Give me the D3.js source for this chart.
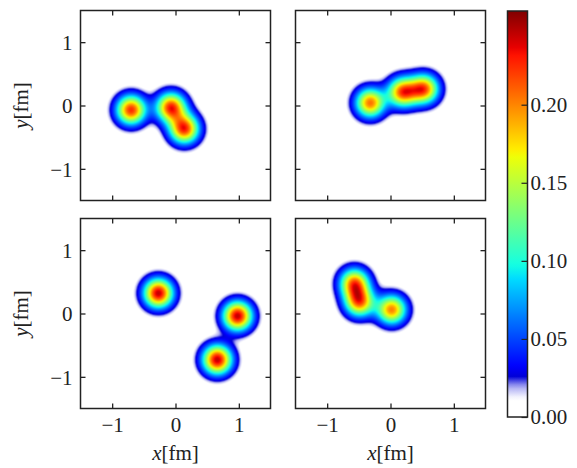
<!DOCTYPE html>
<html>
<head>
<meta charset="utf-8">
<script src="https://cdn.jsdelivr.net/npm/d3@7"></script>
<style>
  html, body { margin: 0; padding: 0; background: #fff; }
  svg { display: block; }
  text { font-family: "Liberation Serif", "DejaVu Serif", serif; fill: #222; }
</style>
</head>
<body>
<svg id="chart" width="577" height="468"></svg>
<script>
// ---------------- data ----------------
// hot spot centres (fm) and peak weights for each of the four panels
const panelNames = ["topLeft", "topRight", "bottomLeft", "bottomRight"];
const hotspotX = [
  [-0.70, -0.07, 0.14],
  [-0.32, 0.19, 0.53],
  [-0.27, 0.98, 0.66],
  [-0.57, -0.49, 0.02]
];
const hotspotY = [
  [-0.07, -0.03, -0.37],
  [0.04, 0.21, 0.26],
  [0.32, -0.04, -0.73],
  [0.48, 0.18, 0.06]
];
const hotspotW = [
  [0.225, 0.225, 0.225],
  [0.205, 0.21, 0.21],
  [0.245, 0.245, 0.245],
  [0.20, 0.20, 0.20]
];
const hotspotWidth = 0.16;           // Gaussian width (fm)
const axisTicks = [-1, 0, 1];
const axisTickLabels = ["\u22121", "0", "1"];
const cbarTicks = [0.00, 0.05, 0.10, 0.15, 0.20];
const cbarTickLabels = ["0.00", "0.05", "0.10", "0.15", "0.20"];
const valueMax = 0.26;
const axisDomain = [-1.5, 1.5];

// ---------------- colormap (jet with a white floor) ----------------
const cmapStops = [0, 0.045, 0.075, 0.10, 0.125, 0.34, 0.375, 0.64, 0.66, 0.89, 0.91, 1.0];
const cmapColors = ["#ffffff", "#ffffff", "#a8a8f2", "#0000d8", "#0000ff", "#00dbff",
                    "#14ffe2", "#eeff08", "#ffec00", "#ff1300", "#e80000", "#800000"];
const cmap = d3.scaleLinear().domain(cmapStops).range(cmapColors)
  .interpolate(d3.interpolateRgb).clamp(true);
const valueToT = d3.scaleLinear().domain([0, valueMax]).range([0, 1]).clamp(true);

// ---------------- layout ----------------
const svg = d3.select("#chart");
const size = 190;
const panelPos = [
  {x: 80.5, y: 10.5, left: true, bottom: false},
  {x: 295.5, y: 10.5, left: false, bottom: false},
  {x: 80.5, y: 218.5, left: true, bottom: true},
  {x: 295.5, y: 218.5, left: false, bottom: true}
];
const fontSize = 21;
const tickLen = 5;

function density(i, x, y) {
  let s = 0;
  const b2 = 2 * hotspotWidth * hotspotWidth;
  for (let k = 0; k < hotspotX[i].length; k++) {
    const dx = x - hotspotX[i][k], dy = y - hotspotY[i][k];
    s += hotspotW[i][k] * Math.exp(-(dx * dx + dy * dy) / b2);
  }
  return s;
}

panelPos.forEach((p, i) => {
  const xs = d3.scaleLinear().domain(axisDomain).range([p.x, p.x + size]);
  const ys = d3.scaleLinear().domain(axisDomain).range([p.y + size, p.y]);

  // heat map raster
  const n = size;
  const canvas = document.createElement("canvas");
  canvas.width = n; canvas.height = n;
  const ctx = canvas.getContext("2d");
  const img = ctx.createImageData(n, n);
  for (let r = 0; r < n; r++) {
    const yv = ys.invert(p.y + r + 0.5);
    for (let c = 0; c < n; c++) {
      const xv = xs.invert(p.x + c + 0.5);
      const col = d3.rgb(cmap(valueToT(density(i, xv, yv))));
      const o = (r * n + c) * 4;
      img.data[o] = col.r; img.data[o + 1] = col.g; img.data[o + 2] = col.b; img.data[o + 3] = 255;
    }
  }
  ctx.putImageData(img, 0, 0);
  const g = svg.append("g").attr("class", "panel " + panelNames[i]);
  g.append("image")
    .attr("x", p.x).attr("y", p.y).attr("width", size).attr("height", size)
    .attr("preserveAspectRatio", "none")
    .attr("href", canvas.toDataURL());

  // axes with inward ticks on all sides
  const mk = (axis, tx, ty, labels) => {
    const a = g.append("g").attr("transform", `translate(${tx},${ty})`)
      .call(axis.tickValues(axisTicks).tickSizeInner(-tickLen).tickSizeOuter(0)
        .tickPadding(tickLen + 8).tickFormat((d, j) => labels ? axisTickLabels[j] : ""));
    a.select(".domain").remove();
    a.selectAll(".tick line").attr("stroke", "#222").attr("stroke-width", 1.3);
    a.selectAll(".tick text").style("font-family", "'Liberation Serif', serif")
      .style("font-size", fontSize + "px").attr("fill", "#222");
    return a;
  };
  const ax = mk(d3.axisBottom(xs), 0, p.y + size, p.bottom);
  ax.selectAll(".tick text").attr("dy", "0.85em").attr("y", 6);
  mk(d3.axisTop(xs), 0, p.y, false);
  const ay = mk(d3.axisLeft(ys), p.x, 0, p.left);
  ay.selectAll(".tick text").attr("x", -8).attr("dy", "0.35em");
  mk(d3.axisRight(ys), p.x + size, 0, false);

  g.append("rect").attr("x", p.x).attr("y", p.y).attr("width", size).attr("height", size)
    .attr("fill", "none").attr("stroke", "#222").attr("stroke-width", 1.5);

  if (p.left) {
    const t = g.append("text")
      .attr("transform", `translate(${p.x - 53},${p.y + size / 2}) rotate(-90)`)
      .attr("text-anchor", "middle").style("font-size", fontSize + "px");
    t.append("tspan").style("font-style", "italic").text("y");
    t.append("tspan").text("[fm]");
  }
  if (p.bottom) {
    const t = g.append("text")
      .attr("x", p.x + size / 2).attr("y", p.y + size + 51)
      .attr("text-anchor", "middle").style("font-size", fontSize + "px");
    t.append("tspan").style("font-style", "italic").text("x");
    t.append("tspan").text("[fm]");
  }
});

// ---------------- colour bar ----------------
const cb = {x: 507.5, y: 11, w: 20, h: 406};
const cs = d3.scaleLinear().domain([0, valueMax]).range([cb.y + cb.h, cb.y]);
const defs = svg.append("defs");
const grad = defs.append("linearGradient").attr("id", "cbgrad")
  .attr("x1", 0).attr("y1", 1).attr("x2", 0).attr("y2", 0);
d3.range(0, 1.0001, 0.01).forEach(t => {
  grad.append("stop").attr("offset", t).attr("stop-color", cmap(t));
});
svg.append("rect").attr("x", cb.x).attr("y", cb.y).attr("width", cb.w).attr("height", cb.h)
  .attr("fill", "url(#cbgrad)");
const cax = svg.append("g").attr("transform", `translate(${cb.x + cb.w},0)`)
  .call(d3.axisRight(cs).tickValues(cbarTicks).tickSizeInner(-6).tickSizeOuter(0)
    .tickPadding(4).tickFormat((d, j) => cbarTickLabels[j]));
cax.select(".domain").remove();
cax.selectAll(".tick line").attr("stroke", "#222").attr("stroke-width", 1.2);
cax.selectAll(".tick text").attr("x", 3).style("font-family", "'Liberation Serif', serif")
  .style("font-size", fontSize + "px").attr("fill", "#222");
svg.append("rect").attr("x", cb.x).attr("y", cb.y).attr("width", cb.w).attr("height", cb.h)
  .attr("fill", "none").attr("stroke", "#222").attr("stroke-width", 1.5);
</script>
</body>
</html>
